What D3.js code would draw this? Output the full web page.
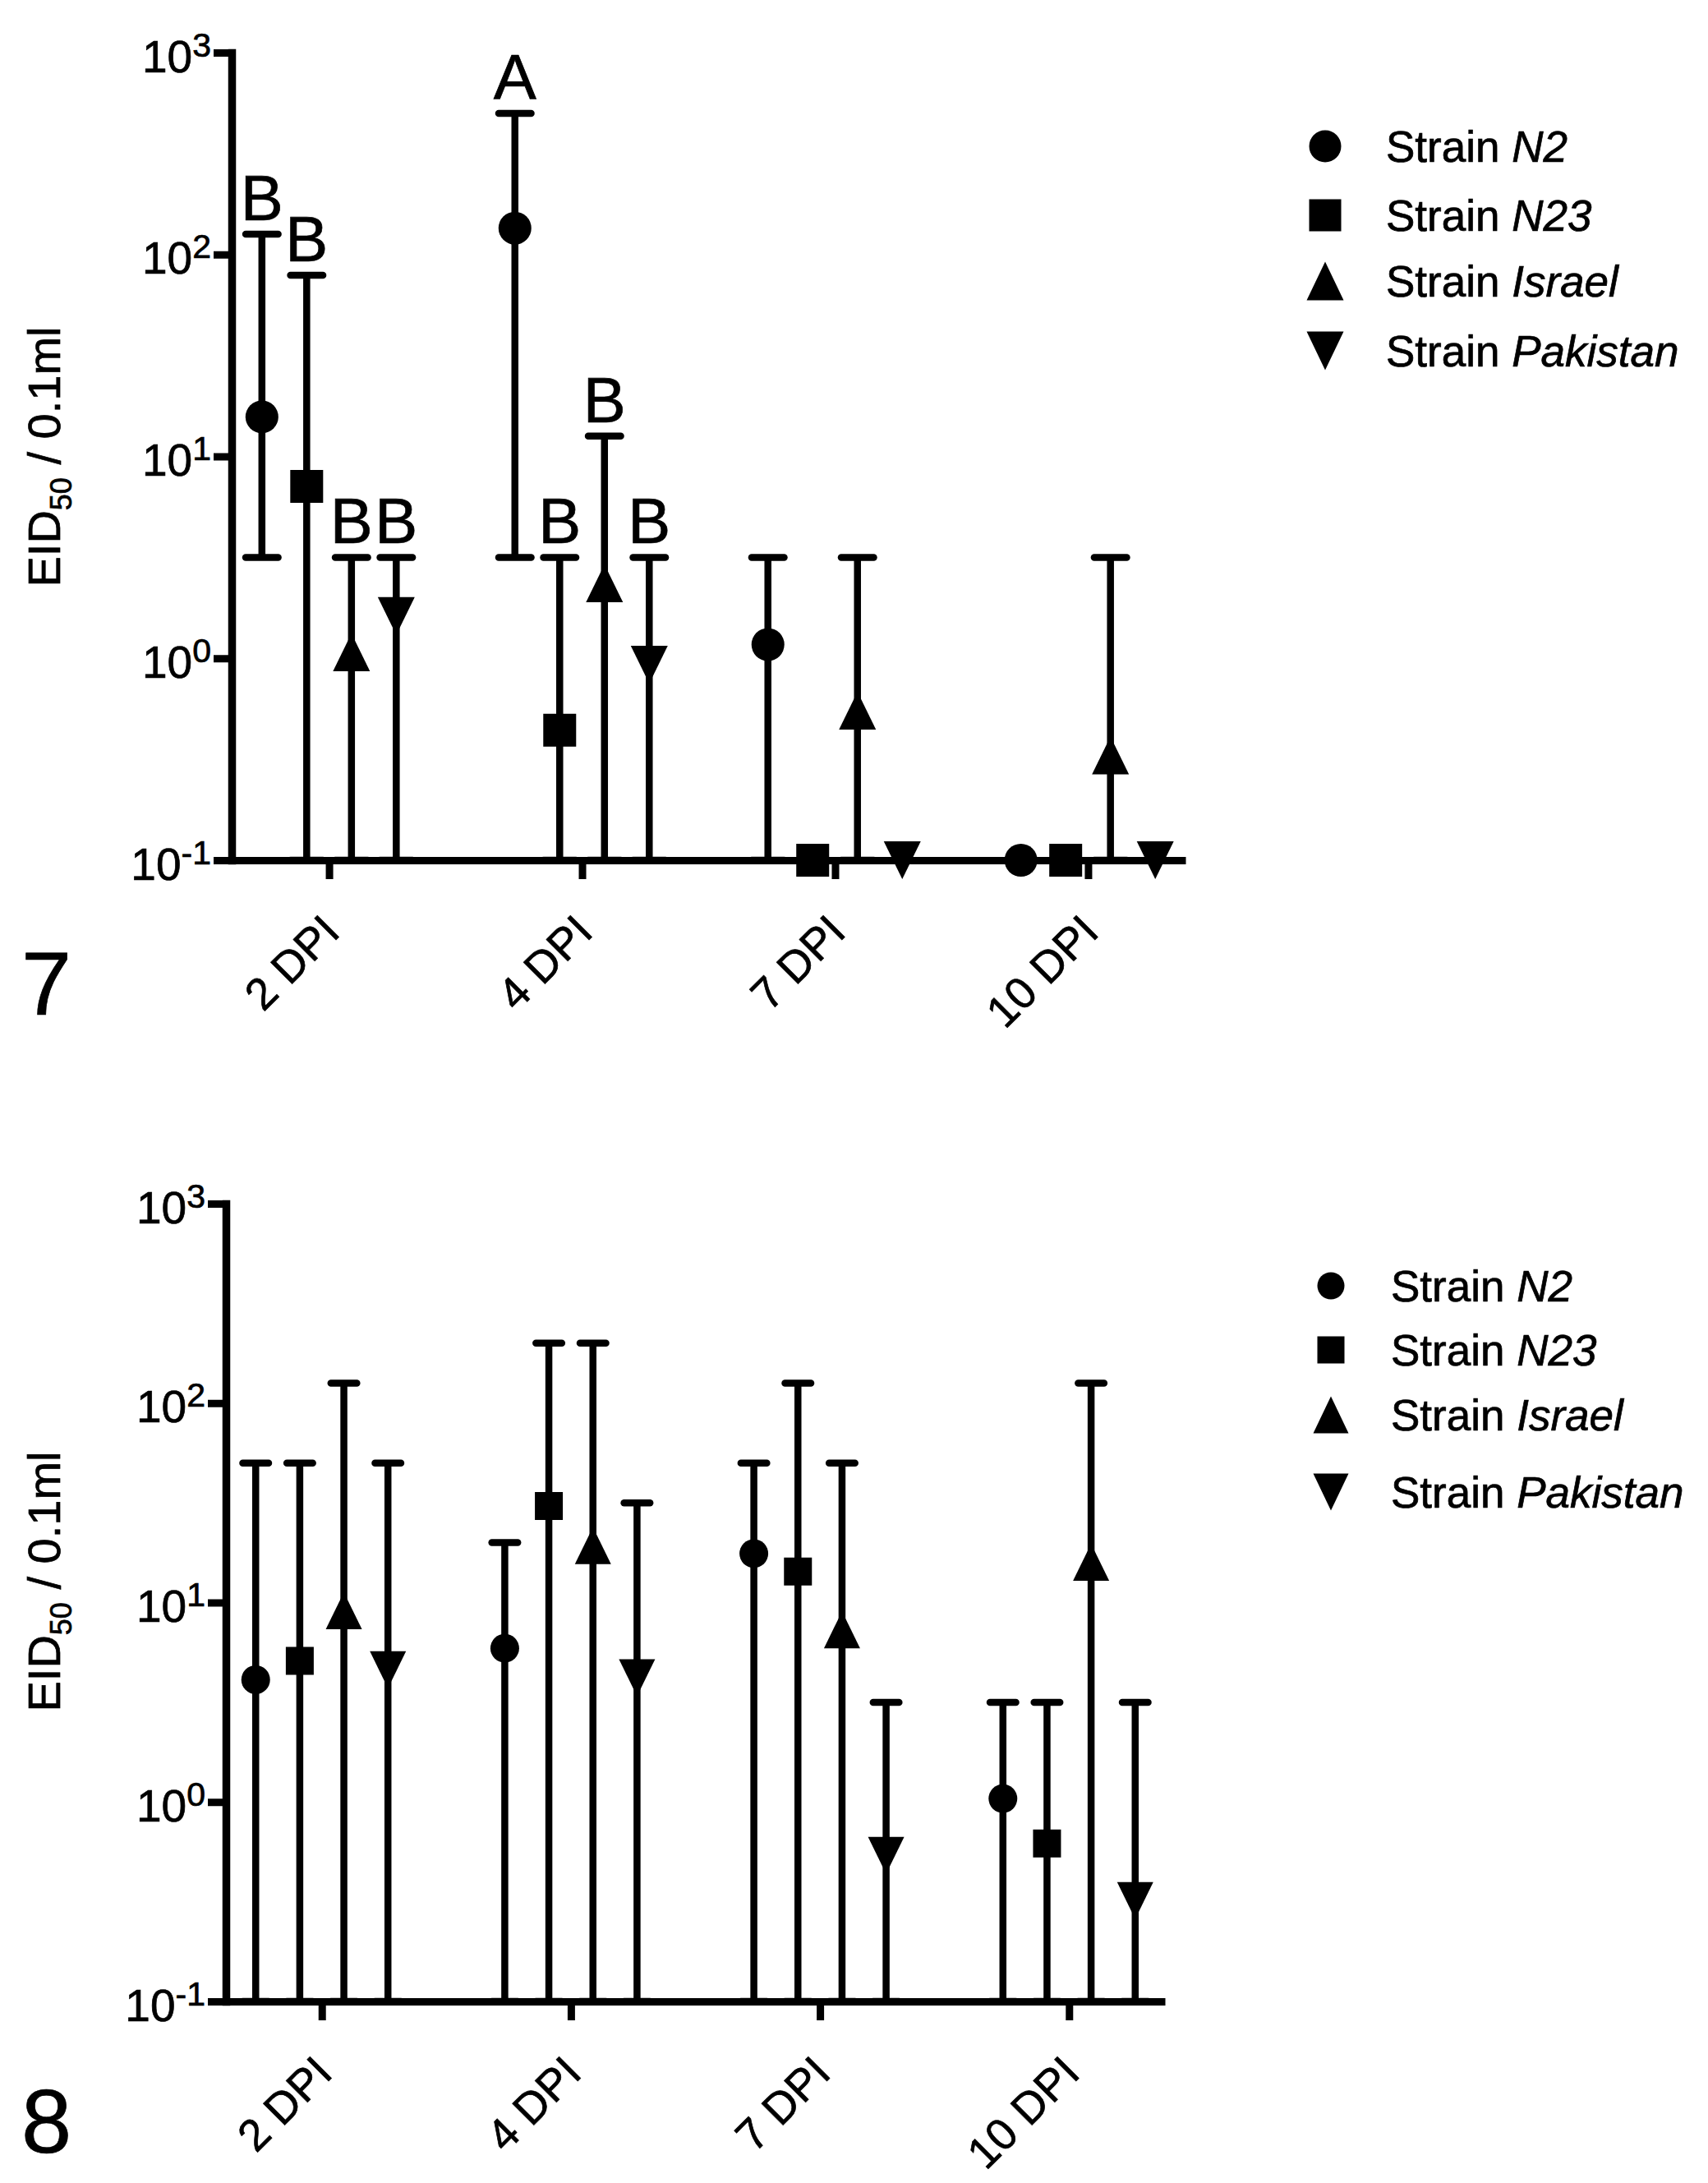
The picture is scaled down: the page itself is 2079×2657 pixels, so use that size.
<!DOCTYPE html>
<html>
<head>
<meta charset="utf-8">
<script src="https://cdn.jsdelivr.net/npm/d3@7"></script>
<style>
  body { margin: 0; background: #fff; }
  svg { display: block; }
  text { font-family: "Liberation Sans", Arial, Helvetica, sans-serif; fill: #000; stroke: #000; stroke-width: 0.7px; }
</style>
</head>
<body>
<svg id="fig" width="2079" height="2657"></svg>
<script>
// ---- data ----
const days = ["2 DPI", "4 DPI", "7 DPI", "10 DPI"];
const strains = ["N2", "N23", "Israel", "Pakistan"];
const shapes = ["circle", "square", "triangle", "triangleDown"];
const yTicks = [0.1, 1, 10, 100, 1000];

// figure 7 : rows = days, columns = strains
const fig7Mean = [
    [15.7, 7.1, 1.07, 1.62],
    [135, 0.44, 2.35, 0.93],
    [1.17, 0.1, 0.55, 0.1],
    [0.1, 0.1, 0.33, 0.1]
];
const fig7Upper = [
    [126, 79, 3.16, 3.16],
    [500, 3.16, 12.6, 3.16],
    [3.16, null, 3.16, null],
    [null, null, 3.16, null]
];
const fig7Lower = [
    [3.16, 0.1, 0.1, 0.1],
    [3.16, 0.1, 0.1, 0.1],
    [0.1, null, 0.1, null],
    [null, null, 0.1, null]
];
const fig7Letters = [
    ["B", "B", "B", "B"],
    ["A", "B", "B", "B"],
    ["", "", "", ""],
    ["", "", "", ""]
];

// figure 8
const fig8Mean = [
    [4.1, 5.1, 9.1, 4.6],
    [5.9, 30.5, 19.3, 4.2],
    [17.6, 14.3, 7.3, 0.54],
    [1.04, 0.62, 15.9, 0.32]
];
const fig8Upper = [
    [50, 50, 126, 50],
    [20, 200, 200, 31.6],
    [50, 126, 50, 3.16],
    [3.16, 3.16, 126, 3.16]
];
const fig8Lower = [
    [0.1, 0.1, 0.1, 0.1],
    [0.1, 0.1, 0.1, 0.1],
    [0.1, 0.1, 0.1, 0.1],
    [0.1, 0.1, 0.1, 0.1]
];
const fig8Letters = [
    ["", "", "", ""],
    ["", "", "", ""],
    ["", "", "", ""],
    ["", "", "", ""]
];

// ---- layout ----
const panels = [
    {
        label: "7", labelY: 1235,
        x0: 282, x1: 1443, yTop: 64, yBot: 1047, titleY: 556,
        mean: fig7Mean, upper: fig7Upper, lower: fig7Lower, letters: fig7Letters,
        circle: 40, square: 40, triW: 45, triH: 46, capW: 48,
        legX: 1613, legText: 1687, legRows: [178, 262, 342, 427],
        legCircle: 39, legSquare: 39, legTriW: 45, legTriH: 47
    },
    {
        label: "8", labelY: 2620,
        x0: 275, x1: 1418, yTop: 1465, yBot: 2436, titleY: 1925,
        mean: fig8Mean, upper: fig8Upper, lower: fig8Lower, letters: fig8Letters,
        circle: 35, square: 34, triW: 44, triH: 45, capW: 40,
        legX: 1620, legText: 1693, legRows: [1565, 1643, 1722, 1816],
        legCircle: 33, legSquare: 33, legTriW: 43, legTriH: 45
    }
];

const svg = d3.select("#fig");
const lw = 8.5;

function markerPath(shape, p, legend) {
    var c = legend ? p.legCircle : p.circle,
        s = legend ? p.legSquare : p.square,
        w = legend ? p.legTriW : p.triW,
        h = legend ? p.legTriH : p.triH;
    if (shape == "circle") return d3.symbol(d3.symbolCircle, Math.PI * c * c / 4)();
    if (shape == "square") return d3.symbol(d3.symbolSquare, s * s)();
    if (shape == "triangle")
        return "M0," + (-h / 2) + "L" + (w / 2) + "," + (h / 2) + "L" + (-w / 2) + "," + (h / 2) + "Z";
    return "M0," + (h / 2) + "L" + (w / 2) + "," + (-h / 2) + "L" + (-w / 2) + "," + (-h / 2) + "Z";
}

panels.forEach(function (p) {
    var x = d3.scalePoint().domain(days).range([p.x0, p.x1]).padding(0.385);
    var inner = d3.scalePoint().domain(strains).range([-1.5, 1.5]);
    var sub = x.step() * 0.177;
    var y = d3.scaleLog().domain([0.1, 1000]).range([p.yBot, p.yTop]);

    var g = svg.append("g");

    // flatten into points
    var pts = [];
    days.forEach(function (d, i) {
        strains.forEach(function (s, j) {
            pts.push({
                day: d, strain: s, shape: shapes[j],
                cx: x(d) + inner(s) * sub,
                mean: p.mean[i][j], hi: p.upper[i][j], lo: p.lower[i][j],
                letter: p.letters[i][j]
            });
        });
    });

    // error bars
    var bars = g.append("g").attr("stroke", "#000").attr("stroke-width", lw);
    pts.filter(function (d) { return d.hi != null; }).forEach(function (d) {
        bars.append("line")
            .attr("x1", d.cx).attr("x2", d.cx)
            .attr("y1", y(d.hi)).attr("y2", y(d.lo));
        [d.hi, d.lo].forEach(function (v) {
            bars.append("line")
                .attr("stroke-linecap", "round")
                .attr("x1", d.cx - p.capW / 2 + lw / 2).attr("x2", d.cx + p.capW / 2 - lw / 2)
                .attr("y1", y(v)).attr("y2", y(v));
        });
    });

    // y axis
    var yAxis = g.append("g")
        .attr("transform", "translate(" + p.x0 + ",0)")
        .call(d3.axisLeft(y).tickValues(yTicks).tickSize(22).tickSizeOuter(0).tickFormat(""));
    yAxis.select(".domain").attr("stroke-width", 9.5).attr("stroke-linecap", "square");
    yAxis.selectAll(".tick line").attr("stroke-width", 9);
    yAxis.selectAll(".tick text").remove();
    yAxis.selectAll(".tick").append("text")
        .attr("x", -25).attr("y", 23)
        .attr("text-anchor", "end")
        .style("font-size", "55px")
        .each(function (v) {
            var t = d3.select(this);
            t.append("tspan").text("10");
            t.append("tspan").attr("dy", -19).style("font-size", "41px")
                .text(Math.round(Math.log10(v)) < 0 ? "-1" : Math.round(Math.log10(v)));
        });

    // x axis
    var xAxis = g.append("g")
        .attr("transform", "translate(0," + p.yBot + ")")
        .call(d3.axisBottom(x).tickSize(23).tickSizeOuter(0));
    xAxis.select(".domain").attr("stroke-width", 9);
    xAxis.selectAll(".tick line").attr("stroke-width", 9);
    xAxis.selectAll(".tick text")
        .attr("x", 0).attr("y", 0).attr("dy", 0)
        .attr("transform", "translate(15,90) rotate(-45)")
        .attr("text-anchor", "end")
        .style("font-size", "54px");
    g.selectAll(".domain, .tick line").attr("stroke", "#000");

    // markers
    g.append("g").selectAll("path").data(pts).join("path")
        .attr("d", function (d) { return markerPath(d.shape, p, false); })
        .attr("transform", function (d) { return "translate(" + d.cx + "," + y(d.mean) + ")"; })
        .attr("fill", "#000");

    // significance letters
    g.append("g").selectAll("text").data(pts.filter(function (d) { return d.letter; })).join("text")
        .attr("x", function (d) { return d.cx; })
        .attr("y", function (d) { return y(d.hi) - 17; })
        .attr("text-anchor", "middle")
        .style("font-size", "78px")
        .text(function (d) { return d.letter; });

    // y title
    var title = g.append("text")
        .attr("transform", "translate(73," + p.titleY + ") rotate(-90)")
        .attr("text-anchor", "middle")
        .style("font-size", "56px");
    title.append("tspan").text("EID");
    title.append("tspan").attr("dy", 14).style("font-size", "36px").text("50");
    title.append("tspan").attr("dy", -14).text(" / 0.1ml");

    // panel number
    g.append("text").attr("x", 26).attr("y", p.labelY)
        .style("font-size", "110px").text(p.label);

    // legend
    var leg = g.append("g");
    strains.forEach(function (s, j) {
        leg.append("path")
            .attr("d", markerPath(shapes[j], p, true))
            .attr("transform", "translate(" + p.legX + "," + p.legRows[j] + ")")
            .attr("fill", "#000");
        var t = leg.append("text")
            .attr("x", p.legText).attr("y", p.legRows[j] + 19)
            .style("font-size", "53px");
        t.append("tspan").text("Strain ");
        t.append("tspan").style("font-style", "italic").text(s);
    });
});
</script>
</body>
</html>
